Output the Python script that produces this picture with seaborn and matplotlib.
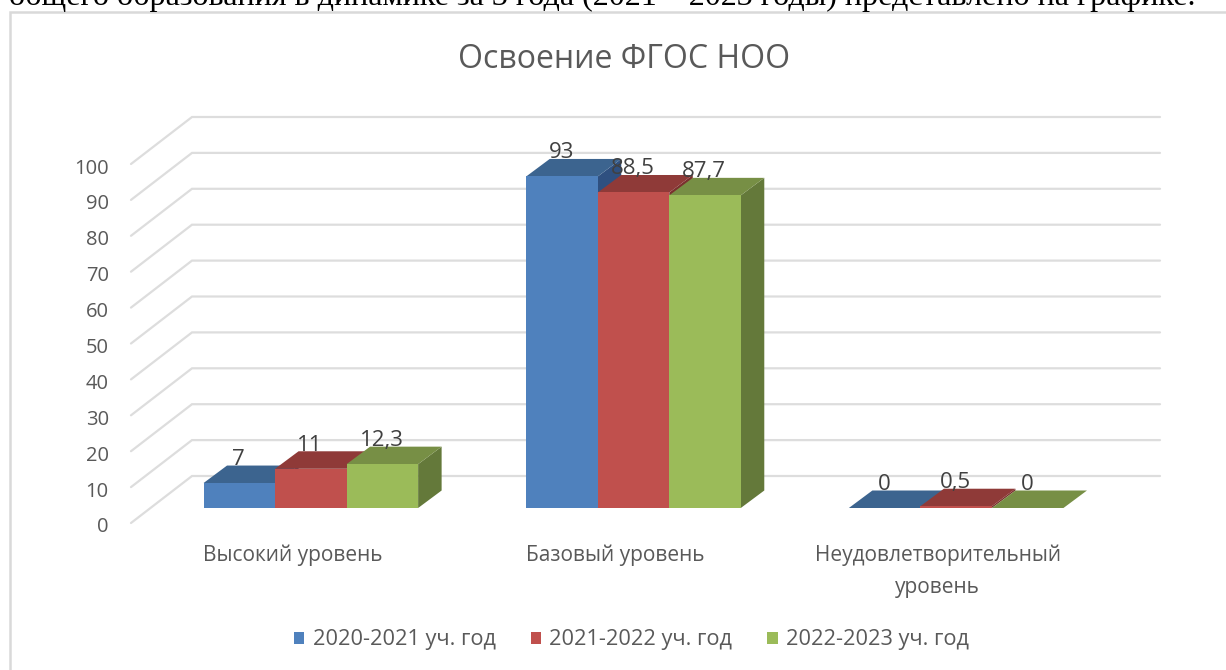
import matplotlib
matplotlib.use("Agg")
import matplotlib.pyplot as plt
from matplotlib.patches import Polygon, Rectangle, Patch
from matplotlib.transforms import ScaledTranslation
import seaborn as sns
import pandas as pd

categories = ["Высокий уровень", "Базовый уровень", "Неудовлетворительный\nуровень"]
years = ["2020-2021 уч. год", "2021-2022 уч. год", "2022-2023 уч. год"]
v2021 = [7, 93, 0]
v2122 = [11, 88.5, 0.5]
v2223 = [12.3, 87.7, 0]
series = [v2021, v2122, v2223]
front_cols = ["#4F81BD", "#C0504D", "#9BBB59"]
top_cols = ["#3C648F", "#8F3A38", "#778F45"]
side_cols = ["#2F5080", "#7A302E", "#64793A"]
y_ticks = list(range(0, 101, 10))

W, H = 1226, 670
sns.set_theme(style="white")
plt.rcParams["font.family"] = ["Open Sans", "DejaVu Sans"]
fig = plt.figure(figsize=(W / 100, H / 100), dpi=100)

def axes_px(left, bottom_y, width, height, **kw):
    return fig.add_axes([left / W, 1 - bottom_y / H, width / W, height / H], **kw)

# front plane: axis labels and gridline start
front = axes_px(131, 523, 968, 359)
front.set_xlim(-0.5, 2.5)
front.set_ylim(0, 100)
front.patch.set_alpha(0)
for s in front.spines.values():
    s.set_visible(False)
front.set_yticks(y_ticks)
front.set_xticks(range(3))
front.set_xticklabels(categories, linespacing=1.7)
front.tick_params(axis="y", length=0, pad=16, labelsize=14.5, labelcolor="#595959")
front.tick_params(axis="x", length=0, pad=15.5, labelsize=15, labelcolor="#595959")
shift = ScaledTranslation(0, -2 / 100, fig.dpi_scale_trans)
for lab in front.get_yticklabels():
    lab.set_transform(lab.get_transform() + shift)
grid_c = "#DDDDDD"
dx_wall, dy_wall = 61 / 968 * 3, 47 / 3.59
for t in y_ticks:
    front.plot([-0.5, -0.5 + dx_wall, 2.5 + dx_wall], [t, t + dy_wall, t + dy_wall],
               color=grid_c, lw=1.6, clip_on=False, solid_joinstyle="miter")

# bars plane
ax = axes_px(149.5, 508, 968, 356.5)
df = pd.DataFrame({
    "cat": categories * 3,
    "year": [y for y in years for _ in categories],
    "val": [v for s in series for v in s],
})
sns.barplot(data=df, x="cat", y="val", hue="year", hue_order=years, order=categories,
            palette=front_cols, saturation=1, width=0.665, gap=0, dodge=True,
            legend=False, ax=ax, linewidth=0, errorbar=None)
ax.set_xlim(-0.5, 2.5)
ax.set_ylim(0, 100)
ax.axis("off")

dx, dy = 23.5 / 968 * 3, 17.5 / 3.565
for i, cont in enumerate(ax.containers):
    for bar in cont:
        x, w, h = bar.get_x(), bar.get_width(), bar.get_height()
        bar.set_zorder(3 + i)
        bar.set_clip_on(False)
        top = Polygon([(x, h), (x + dx, h + dy), (x + w + dx, h + dy), (x + w, h)],
                      fc=top_cols[i], ec="none", zorder=2.5 + i, clip_on=False)
        side = Polygon([(x + w, 0), (x + w + dx, dy), (x + w + dx, h + dy), (x + w, h)],
                       fc=side_cols[i], ec="none", zorder=2.4 + i, clip_on=False)
        ax.add_patch(side)
        ax.add_patch(top)
        label = f"{h:g}".replace(".", ",")
        ax.annotate(label, (x + w / 2, h), xytext=(-0.5, 17), textcoords="offset points",
                    ha="center", va="center", fontsize=16, color="#404040", zorder=20,
                    annotation_clip=False)

fig.text(624 / W, 1 - 60 / H, "Освоение ФГОС НОО", ha="center", va="center",
         fontsize=23, color="#595959")

handles = [Patch(fc=c, ec="none") for c in front_cols]
fig.legend(handles, years, loc="center", bbox_to_anchor=(631.5 / W, 1 - 640 / H), ncols=3,
           frameon=False, fontsize=15.7, labelcolor="#595959", handlelength=0.47, handleheight=0.47,
           handletextpad=0.4, columnspacing=1.6, borderpad=0, borderaxespad=0)

fig.add_artist(Rectangle((9.5 / W, -0.05), 1.1, 1 - 12 / H + 0.05, transform=fig.transFigure,
                         fc="none", ec="#D9D9D9", lw=1.8, zorder=0))

fig.text(9 / W, 1 - 4.5 / H, "общего образования в динамике за 3 года (2021 – 2023 годы) представлено на графике.",
         family="Liberation Serif", fontsize=23.1, color="black", ha="left", va="baseline")

fig.savefig("out.png", dpi=100)
